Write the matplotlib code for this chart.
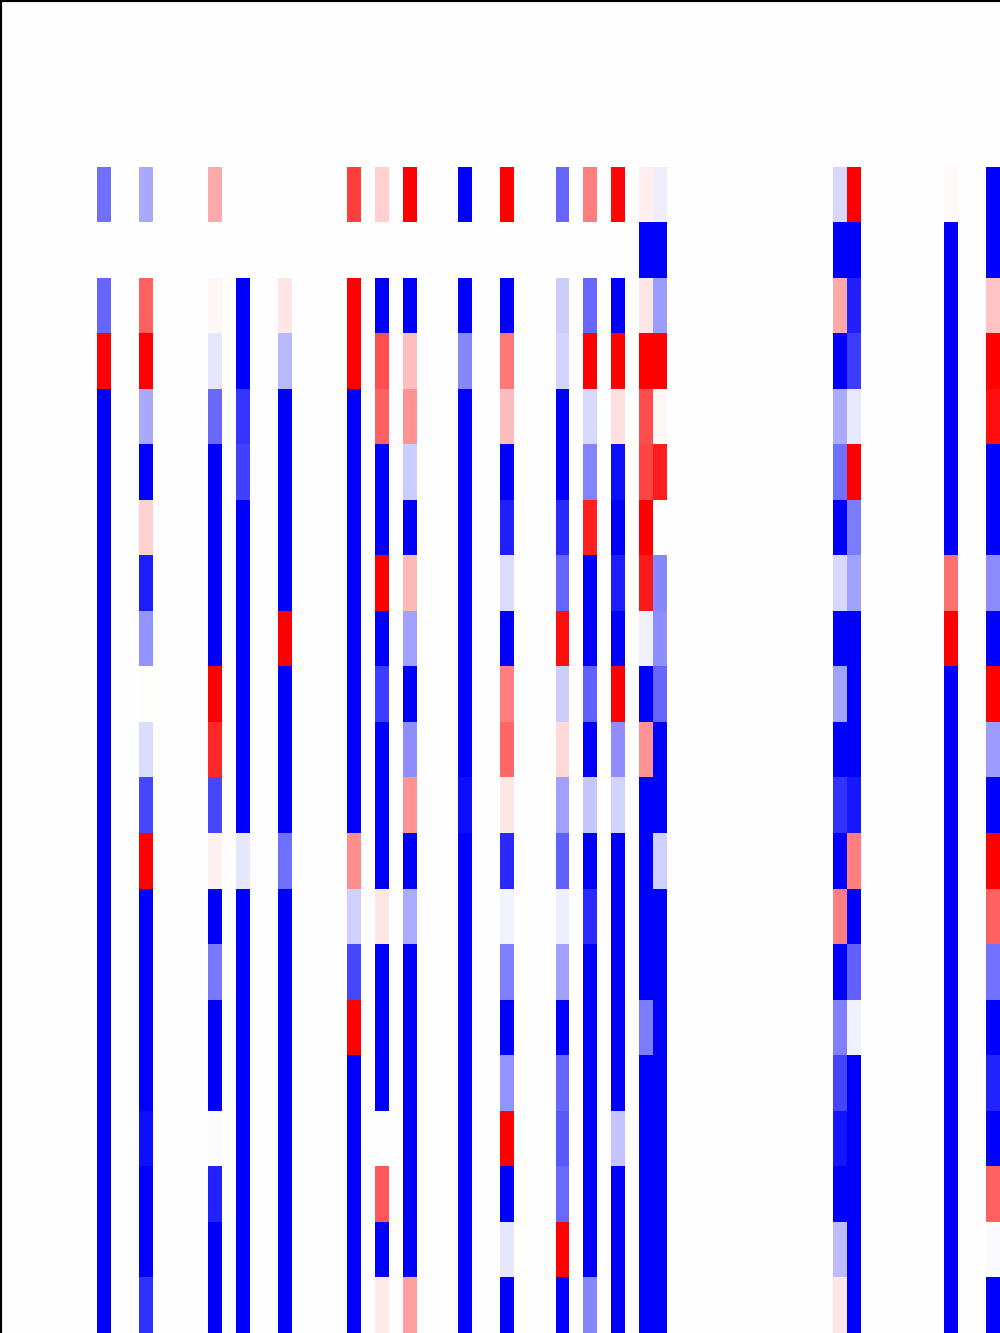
import matplotlib
matplotlib.use("Agg")
import matplotlib.pyplot as plt
import numpy as np

# grid size of the heatmap (most cells are empty / zero)
n_rows = 24
n_cols = 72
first_row = 3

# columns that hold values, and the values for rows 3..23 of each
col_ids = [7, 10, 15, 17, 20, 25, 27, 29, 33, 36, 40, 42, 44, 46, 47, 60, 61, 68, 71]

c07 = [-0.56, 0, -0.6, 1, -1, -1, -1, -1, -1, -1, -1, -1, -1, -1, -1, -1, -1, -1, -1, -1, -1]
c10 = [-0.34, 0, 0.62, 1, -0.34, -1, 0.18, -0.89, -0.42, 0.01, -0.14, -0.72, 1, -1, -1, -1, -1, -0.94, -1, -1, -0.81]
c15 = [0.33, 0, 0.035, -0.1, -0.58, -1, -1, -1, -1, 1, 0.84, -0.72, 0.06, -1, -0.53, -1, -1, -0.01, -0.86, -1, -1]
c17 = [0, 0, -1, -1, -0.79, -0.74, -1, -1, -1, -1, -1, -1, -0.1, -1, -1, -1, -1, -1, -1, -1, -1]
c20 = [0, 0, 0.1, -0.28, -1, -1, -1, -1, 1, -1, -1, -1, -0.56, -1, -1, -1, -1, -1, -1, -1, -1]
c25 = [0.75, 0, 1, 1, -1, -1, -1, -1, -1, -1, -1, -1, 0.44, -0.18, -0.72, 1, -1, -1, -1, -1, -1]
c27 = [0.18, 0, -1, 0.69, 0.61, -1, -1, 1, -1, -0.76, -1, -1, -1, 0.1, -1, -1, -1, 0, 0.65, -1, 0.09]
c29 = [1, 0, -1, 0.25, 0.42, -0.2, -1, 0.28, -0.37, -1, -0.44, 0.42, -1, -0.33, -1, -1, -1, -1, -1, -1, 0.37]
c33 = [-1, 0, -1, -0.47, -1, -1, -1, -1, -1, -1, -1, -0.94, -1, -1, -1, -1, -1, -1, -1, -1, -1]
c36 = [1, 0, -1, 0.53, 0.26, -1, -0.87, -0.14, -1, 0.5, 0.6, 0.1, -0.84, -0.04, -0.5, -1, -0.42, 1, -1, -0.1, -1]
c40 = [-0.6, 0, -0.2, -0.17, -1, -1, -0.84, -0.6, 0.94, -0.2, 0.15, -0.37, -0.62, -0.07, -0.37, -1, -0.6, -0.65, -0.58, 1, -1]
c42 = [0.5, 0, -0.59, 1, -0.15, -0.48, 0.87, -1, -1, -0.62, -1, -0.22, -1, -0.83, -1, -1, -1, -1, -1, -1, -0.47]
c44 = [0.97, 0, -1, 1, 0.12, -0.94, -1, -0.89, -1, 1, -0.44, -0.17, -1, -1, -1, -1, -1, -0.23, -1, -1, -1]
c46 = [0.07, -1, 0.1, 1, 0.7, 0.73, 1, 0.9, -0.06, -1, 0.42, -1, -1, -1, -1, -0.51, -1, -1, -1, -1, -1]
c47 = [-0.07, -1, -0.39, 1, 0.035, 0.89, 0, -0.47, -0.44, -0.6, -1, -1, -0.18, -1, -1, -1, -1, -1, -1, -1, -1]
c60 = [-0.15, -1, 0.33, -1, -0.33, -0.56, -1, -0.15, -1, -0.36, -1, -0.8, -1, 0.5, -1, -0.5, -0.73, -0.92, -1, -0.26, 0.1]
c61 = [1, -1, -0.87, -0.76, -0.09, 1, -0.51, -0.37, -1, -1, -1, -0.9, 0.5, -1, -0.62, -0.06, -1, -1, -1, -1, -1]
c68 = [0.03, -1, -1, -1, -1, -1, -1, 0.56, 1, -1, -1, -1, -1, -1, -1, -1, -1, -1, -1, -1, -1]
c71 = [-1, -1, 0.23, 1, 0.94, -1, -1, -0.45, -1, 1, -0.39, -1, 1, 0.61, -0.55, -1, -0.86, -1, 0.61, -0.02, -1]

col_values = [c07, c10, c15, c17, c20, c25, c27, c29, c33, c36, c40, c42, c44,
              c46, c47, c60, c61, c68, c71]

data = np.zeros((n_rows, n_cols))
for c, vals in zip(col_ids, col_values):
    data[first_row:first_row + len(vals), c] = vals

fig = plt.figure(figsize=(10, 13.33), dpi=100)
ax = fig.add_axes([0, 0, 1, 1])
ax.imshow(data, cmap="bwr", vmin=-1, vmax=1, aspect="auto", interpolation="nearest")
ax.set_xticks([])
ax.set_yticks([])
# only the top and left frame lines show
ax.spines["right"].set_visible(False)
ax.spines["bottom"].set_visible(False)
ax.spines["top"].set_linewidth(3)
ax.spines["left"].set_linewidth(3)

fig.savefig("out.png", dpi=100)
